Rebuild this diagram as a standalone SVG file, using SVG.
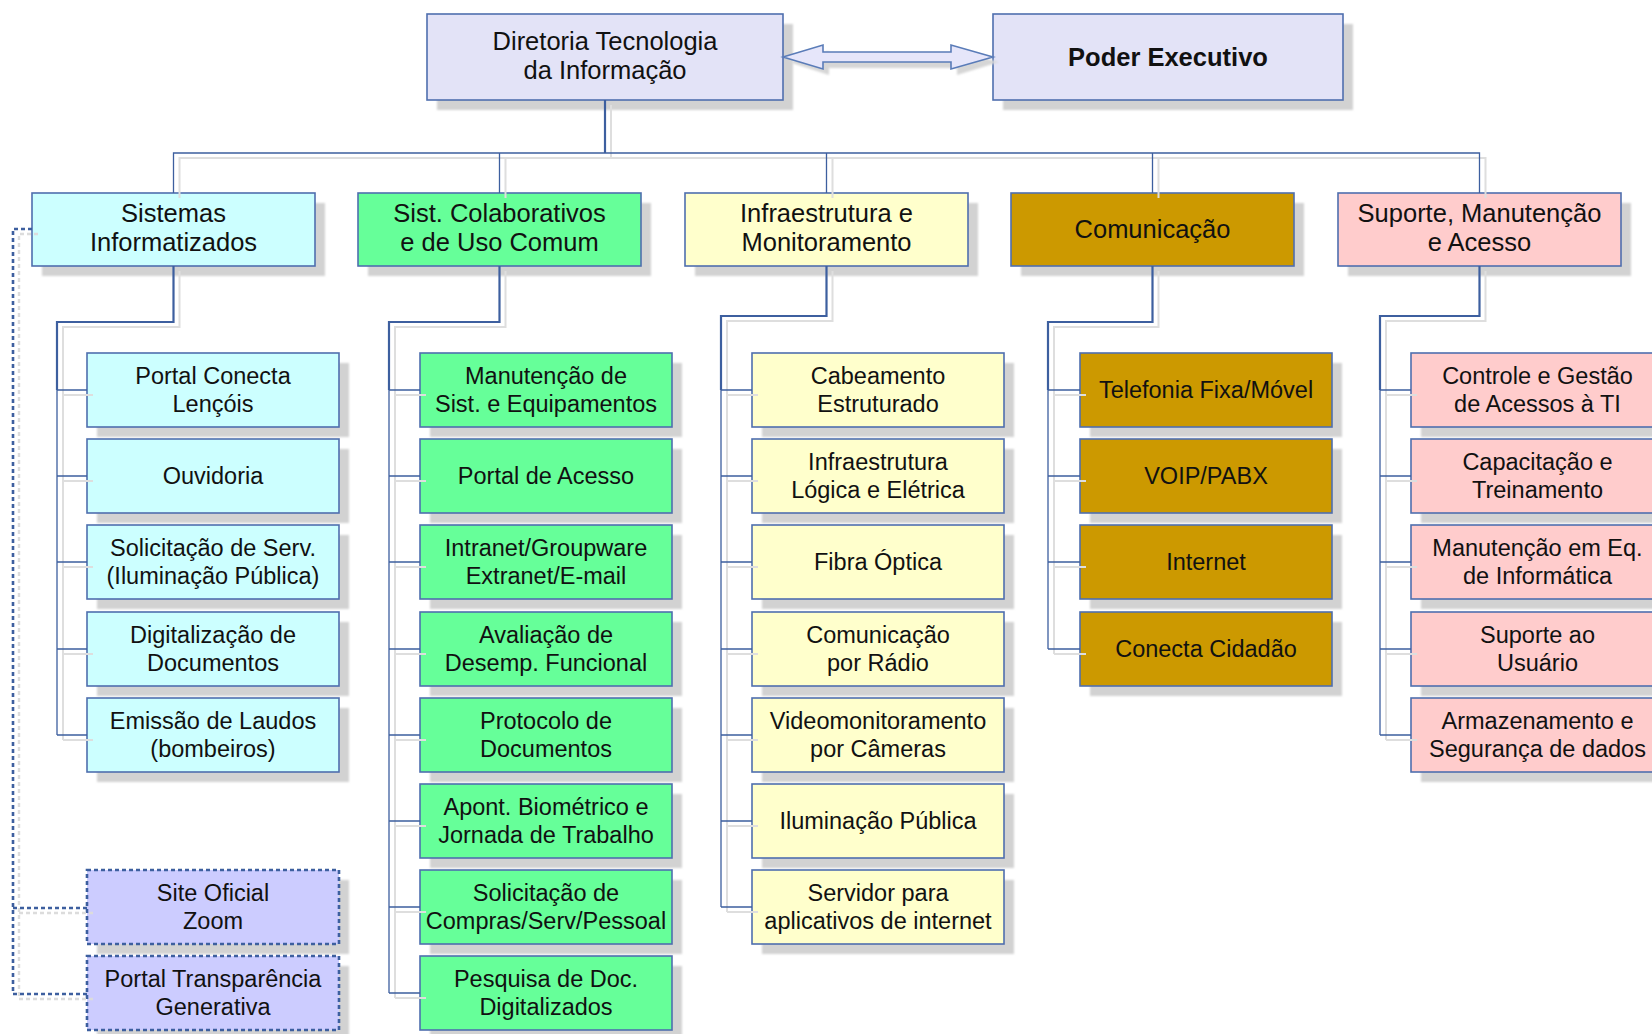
<svg xmlns="http://www.w3.org/2000/svg" width="1652" height="1034" viewBox="0 0 1652 1034">
<defs>
<filter id="blur" x="-10%" y="-10%" width="120%" height="120%"><feGaussianBlur stdDeviation="1"/></filter>
<style>
.sh{fill:#d2d2d2;filter:url(#blur)}
.box{stroke:#4f6fae;stroke-width:1.6}
.dbox{stroke:#3d5f9f;stroke-width:2.6;stroke-dasharray:4 3}
.top{fill:#e3e3f7}
.cy{fill:#ccffff}
.gr{fill:#66ff99}
.ye{fill:#ffffcc}
.go{fill:#cc9900}
.pk{fill:#ffcccc}
.pu{fill:#ccccff}
text{font-family:"Liberation Sans",Arial,sans-serif;fill:#111;text-anchor:middle}
.t0{font-size:25.5px}
.tb{font-size:25.5px;font-weight:bold}
.t1{font-size:25.5px}
.t2{font-size:23.5px}
.cm{stroke:#3d5f9f;stroke-width:2.2;fill:none}
.ct{stroke:#3d5f9f;stroke-width:1.3;fill:none}
.cs{stroke:#dedede;stroke-width:2;fill:none}
.cd{stroke:#3d5f9f;stroke-width:2.6;stroke-dasharray:4 3;fill:none}
.cds{stroke:#dcdcdc;stroke-width:2.4;stroke-dasharray:4 3;fill:none}
</style>
</defs>
<rect width="1652" height="1034" fill="#ffffff"/>

<!-- top level -->
<g id="n_diretoria">
<rect class="sh" x="437" y="24" width="356" height="86"/>
<rect class="box top" x="427" y="14" width="356" height="86"/>
<text class="t0" x="605" y="50">Diretoria Tecnologia</text>
<text class="t0" x="605" y="79">da Informação</text>
</g>
<g id="n_poder">
<rect class="sh" x="1003" y="24" width="350" height="86"/>
<rect class="box top" x="993" y="14" width="350" height="86"/>
<text class="tb" x="1168" y="66">Poder Executivo</text>
</g>

<!-- level 1 -->
<g id="n_sistemas">
<rect class="sh" x="42" y="203" width="283" height="73"/>
<rect class="box cy" x="32" y="193" width="283" height="73"/>
<text class="t1" x="173.5" y="221.5">Sistemas</text>
<text class="t1" x="173.5" y="251">Informatizados</text>
</g>
<g id="n_colab">
<rect class="sh" x="368" y="203" width="283" height="73"/>
<rect class="box gr" x="358" y="193" width="283" height="73"/>
<text class="t1" x="499.5" y="221.5">Sist. Colaborativos</text>
<text class="t1" x="499.5" y="251">e de Uso Comum</text>
</g>
<g id="n_infra">
<rect class="sh" x="695" y="203" width="283" height="73"/>
<rect class="box ye" x="685" y="193" width="283" height="73"/>
<text class="t1" x="826.5" y="221.5">Infraestrutura e</text>
<text class="t1" x="826.5" y="251">Monitoramento</text>
</g>
<g id="n_comunicacao">
<rect class="sh" x="1021" y="203" width="283" height="73"/>
<rect class="box go" x="1011" y="193" width="283" height="73"/>
<text class="t1" x="1152.5" y="238">Comunicação</text>
</g>
<g id="n_suporte">
<rect class="sh" x="1348" y="203" width="283" height="73"/>
<rect class="box pk" x="1338" y="193" width="283" height="73"/>
<text class="t1" x="1479.5" y="221.5">Suporte, Manutenção</text>
<text class="t1" x="1479.5" y="251">e Acesso</text>
</g>

<!-- Sistemas children -->
<g id="n_sis1"><rect class="sh" x="97" y="363" width="252" height="74"/><rect class="box cy" x="87" y="353" width="252" height="74"/><text class="t2" x="213" y="384">Portal Conecta</text><text class="t2" x="213" y="411.5">Lençóis</text></g>
<g id="n_sis2"><rect class="sh" x="97" y="449" width="252" height="74"/><rect class="box cy" x="87" y="439" width="252" height="74"/><text class="t2" x="213" y="483.5">Ouvidoria</text></g>
<g id="n_sis3"><rect class="sh" x="97" y="535" width="252" height="74"/><rect class="box cy" x="87" y="525" width="252" height="74"/><text class="t2" x="213" y="556">Solicitação de Serv.</text><text class="t2" x="213" y="583.5">(Iluminação Pública)</text></g>
<g id="n_sis4"><rect class="sh" x="97" y="622" width="252" height="74"/><rect class="box cy" x="87" y="612" width="252" height="74"/><text class="t2" x="213" y="643">Digitalização de</text><text class="t2" x="213" y="670.5">Documentos</text></g>
<g id="n_sis5"><rect class="sh" x="97" y="708" width="252" height="74"/><rect class="box cy" x="87" y="698" width="252" height="74"/><text class="t2" x="213" y="729">Emissão de Laudos</text><text class="t2" x="213" y="756.5">(bombeiros)</text></g>
<g id="n_site"><rect class="sh" x="97" y="880" width="252" height="74"/><rect class="dbox pu" x="87" y="870" width="252" height="74"/><text class="t2" x="213" y="901">Site Oficial</text><text class="t2" x="213" y="928.5">Zoom</text></g>
<g id="n_transp"><rect class="sh" x="97" y="966" width="252" height="74"/><rect class="dbox pu" x="87" y="956" width="252" height="74"/><text class="t2" x="213" y="987">Portal Transparência</text><text class="t2" x="213" y="1014.5">Generativa</text></g>

<!-- Colab children -->
<g id="n_col1"><rect class="sh" x="430" y="363" width="252" height="74"/><rect class="box gr" x="420" y="353" width="252" height="74"/><text class="t2" x="546" y="384">Manutenção de</text><text class="t2" x="546" y="411.5">Sist. e Equipamentos</text></g>
<g id="n_col2"><rect class="sh" x="430" y="449" width="252" height="74"/><rect class="box gr" x="420" y="439" width="252" height="74"/><text class="t2" x="546" y="483.5">Portal de Acesso</text></g>
<g id="n_col3"><rect class="sh" x="430" y="535" width="252" height="74"/><rect class="box gr" x="420" y="525" width="252" height="74"/><text class="t2" x="546" y="556">Intranet/Groupware</text><text class="t2" x="546" y="583.5">Extranet/E-mail</text></g>
<g id="n_col4"><rect class="sh" x="430" y="622" width="252" height="74"/><rect class="box gr" x="420" y="612" width="252" height="74"/><text class="t2" x="546" y="643">Avaliação de</text><text class="t2" x="546" y="670.5">Desemp. Funcional</text></g>
<g id="n_col5"><rect class="sh" x="430" y="708" width="252" height="74"/><rect class="box gr" x="420" y="698" width="252" height="74"/><text class="t2" x="546" y="729">Protocolo de</text><text class="t2" x="546" y="756.5">Documentos</text></g>
<g id="n_col6"><rect class="sh" x="430" y="794" width="252" height="74"/><rect class="box gr" x="420" y="784" width="252" height="74"/><text class="t2" x="546" y="815">Apont. Biométrico  e</text><text class="t2" x="546" y="842.5">Jornada de Trabalho</text></g>
<g id="n_col7"><rect class="sh" x="430" y="880" width="252" height="74"/><rect class="box gr" x="420" y="870" width="252" height="74"/><text class="t2" x="546" y="901">Solicitação de</text><text class="t2" x="546" y="928.5">Compras/Serv/Pessoal</text></g>
<g id="n_col8"><rect class="sh" x="430" y="966" width="252" height="74"/><rect class="box gr" x="420" y="956" width="252" height="74"/><text class="t2" x="546" y="987">Pesquisa de Doc.</text><text class="t2" x="546" y="1014.5">Digitalizados</text></g>

<!-- Infra children -->
<g id="n_inf1"><rect class="sh" x="762" y="363" width="252" height="74"/><rect class="box ye" x="752" y="353" width="252" height="74"/><text class="t2" x="878" y="384">Cabeamento</text><text class="t2" x="878" y="411.5">Estruturado</text></g>
<g id="n_inf2"><rect class="sh" x="762" y="449" width="252" height="74"/><rect class="box ye" x="752" y="439" width="252" height="74"/><text class="t2" x="878" y="470">Infraestrutura</text><text class="t2" x="878" y="497.5">Lógica e Elétrica</text></g>
<g id="n_inf3"><rect class="sh" x="762" y="535" width="252" height="74"/><rect class="box ye" x="752" y="525" width="252" height="74"/><text class="t2" x="878" y="569.5">Fibra Óptica</text></g>
<g id="n_inf4"><rect class="sh" x="762" y="622" width="252" height="74"/><rect class="box ye" x="752" y="612" width="252" height="74"/><text class="t2" x="878" y="643">Comunicação</text><text class="t2" x="878" y="670.5">por Rádio</text></g>
<g id="n_inf5"><rect class="sh" x="762" y="708" width="252" height="74"/><rect class="box ye" x="752" y="698" width="252" height="74"/><text class="t2" x="878" y="729">Videomonitoramento</text><text class="t2" x="878" y="756.5">por Câmeras</text></g>
<g id="n_inf6"><rect class="sh" x="762" y="794" width="252" height="74"/><rect class="box ye" x="752" y="784" width="252" height="74"/><text class="t2" x="878" y="828.5">Iluminação Pública</text></g>
<g id="n_inf7"><rect class="sh" x="762" y="880" width="252" height="74"/><rect class="box ye" x="752" y="870" width="252" height="74"/><text class="t2" x="878" y="901">Servidor para</text><text class="t2" x="878" y="928.5">aplicativos de internet</text></g>

<!-- Comunicacao children -->
<g id="n_com1"><rect class="sh" x="1090" y="363" width="252" height="74"/><rect class="box go" x="1080" y="353" width="252" height="74"/><text class="t2" x="1206" y="397.5">Telefonia Fixa/Móvel</text></g>
<g id="n_com2"><rect class="sh" x="1090" y="449" width="252" height="74"/><rect class="box go" x="1080" y="439" width="252" height="74"/><text class="t2" x="1206" y="483.5">VOIP/PABX</text></g>
<g id="n_com3"><rect class="sh" x="1090" y="535" width="252" height="74"/><rect class="box go" x="1080" y="525" width="252" height="74"/><text class="t2" x="1206" y="569.5">Internet</text></g>
<g id="n_com4"><rect class="sh" x="1090" y="622" width="252" height="74"/><rect class="box go" x="1080" y="612" width="252" height="74"/><text class="t2" x="1206" y="656.5">Conecta Cidadão</text></g>

<!-- Suporte children -->
<g id="n_sup1"><rect class="sh" x="1421" y="363" width="253" height="74"/><rect class="box pk" x="1411" y="353" width="253" height="74"/><text class="t2" x="1537.5" y="384">Controle e Gestão</text><text class="t2" x="1537.5" y="411.5">de Acessos à TI</text></g>
<g id="n_sup2"><rect class="sh" x="1421" y="449" width="253" height="74"/><rect class="box pk" x="1411" y="439" width="253" height="74"/><text class="t2" x="1537.5" y="470">Capacitação e</text><text class="t2" x="1537.5" y="497.5">Treinamento</text></g>
<g id="n_sup3"><rect class="sh" x="1421" y="535" width="253" height="74"/><rect class="box pk" x="1411" y="525" width="253" height="74"/><text class="t2" x="1537.5" y="556">Manutenção em Eq.</text><text class="t2" x="1537.5" y="583.5">de Informática</text></g>
<g id="n_sup4"><rect class="sh" x="1421" y="622" width="253" height="74"/><rect class="box pk" x="1411" y="612" width="253" height="74"/><text class="t2" x="1537.5" y="643">Suporte ao</text><text class="t2" x="1537.5" y="670.5">Usuário</text></g>
<g id="n_sup5"><rect class="sh" x="1421" y="708" width="253" height="74"/><rect class="box pk" x="1411" y="698" width="253" height="74"/><text class="t2" x="1537.5" y="729">Armazenamento e</text><text class="t2" x="1537.5" y="756.5">Segurança de dados</text></g>

<!-- connectors -->
<g id="connectors">
<!-- double arrow -->
<path d="M789,62 L829,51 V57 H957 V51 L999,62 L957,75 V68 H829 V75 Z" fill="#d6d6d6" filter="url(#blur)"/>
<path d="M783,57 L823,45 V52 H951 V45 L993,57 L951,69 V62 H823 V69 Z" fill="#e6e6fa" stroke="#5a7cb8" stroke-width="1.6" stroke-linejoin="miter"/>

<!-- shadows -->
<g transform="translate(6,5)">
<path class="cs" d="M605,100 V153"/>
<path class="cs" d="M173.5,193 V153 H1479.5 V193 M499.5,153 V193 M826.5,153 V193 M1152.5,153 V193"/>
<path class="cs" d="M173.5,266 V322 H57 V735 M57,390 H87 M57,476 H87 M57,562 H87 M57,649 H87 M57,735 H87"/>
<path class="cs" d="M499.5,266 V322 H389 V993 M389,390 H420 M389,476 H420 M389,562 H420 M389,649 H420 M389,735 H420 M389,821 H420 M389,907 H420 M389,993 H420"/>
<path class="cs" d="M826.5,266 V316 H721 V907 M721,390 H752 M721,476 H752 M721,562 H752 M721,649 H752 M721,735 H752 M721,821 H752 M721,907 H752"/>
<path class="cs" d="M1152.5,266 V322 H1048 V649 M1048,390 H1080 M1048,476 H1080 M1048,562 H1080 M1048,649 H1080"/>
<path class="cs" d="M1479.5,266 V316 H1380 V735 M1380,390 H1411 M1380,476 H1411 M1380,562 H1411 M1380,649 H1411 M1380,735 H1411"/>
<path class="cds" d="M32,229 H13 V994 H87 M13,908 H87"/>
</g>

<!-- bus -->
<path class="cm" d="M605,100 V153"/>
<path class="ct" d="M173.5,193 V153 H1479.5 V193 M499.5,153 V193 M826.5,153 V193 M1152.5,153 V193"/>

<!-- Sistemas -->
<path class="cm" d="M173.5,266 V322 H57 V390"/>
<path class="ct" d="M57,390 V735 M57,390 H87 M57,476 H87 M57,562 H87 M57,649 H87 M57,735 H87"/>
<!-- Colab -->
<path class="cm" d="M499.5,266 V322 H389 V390"/>
<path class="ct" d="M389,390 V993 M389,390 H420 M389,476 H420 M389,562 H420 M389,649 H420 M389,735 H420 M389,821 H420 M389,907 H420 M389,993 H420"/>
<!-- Infra -->
<path class="cm" d="M826.5,266 V316 H721 V390"/>
<path class="ct" d="M721,390 V907 M721,390 H752 M721,476 H752 M721,562 H752 M721,649 H752 M721,735 H752 M721,821 H752 M721,907 H752"/>
<!-- Comunicacao -->
<path class="cm" d="M1152.5,266 V322 H1048 V390"/>
<path class="ct" d="M1048,390 V649 M1048,390 H1080 M1048,476 H1080 M1048,562 H1080 M1048,649 H1080"/>
<!-- Suporte -->
<path class="cm" d="M1479.5,266 V316 H1380 V390"/>
<path class="ct" d="M1380,390 V735 M1380,390 H1411 M1380,476 H1411 M1380,562 H1411 M1380,649 H1411 M1380,735 H1411"/>
<!-- dashed -->
<path class="cd" d="M32,229 H13 V994 H87 M13,908 H87"/>
</g>
</svg>
